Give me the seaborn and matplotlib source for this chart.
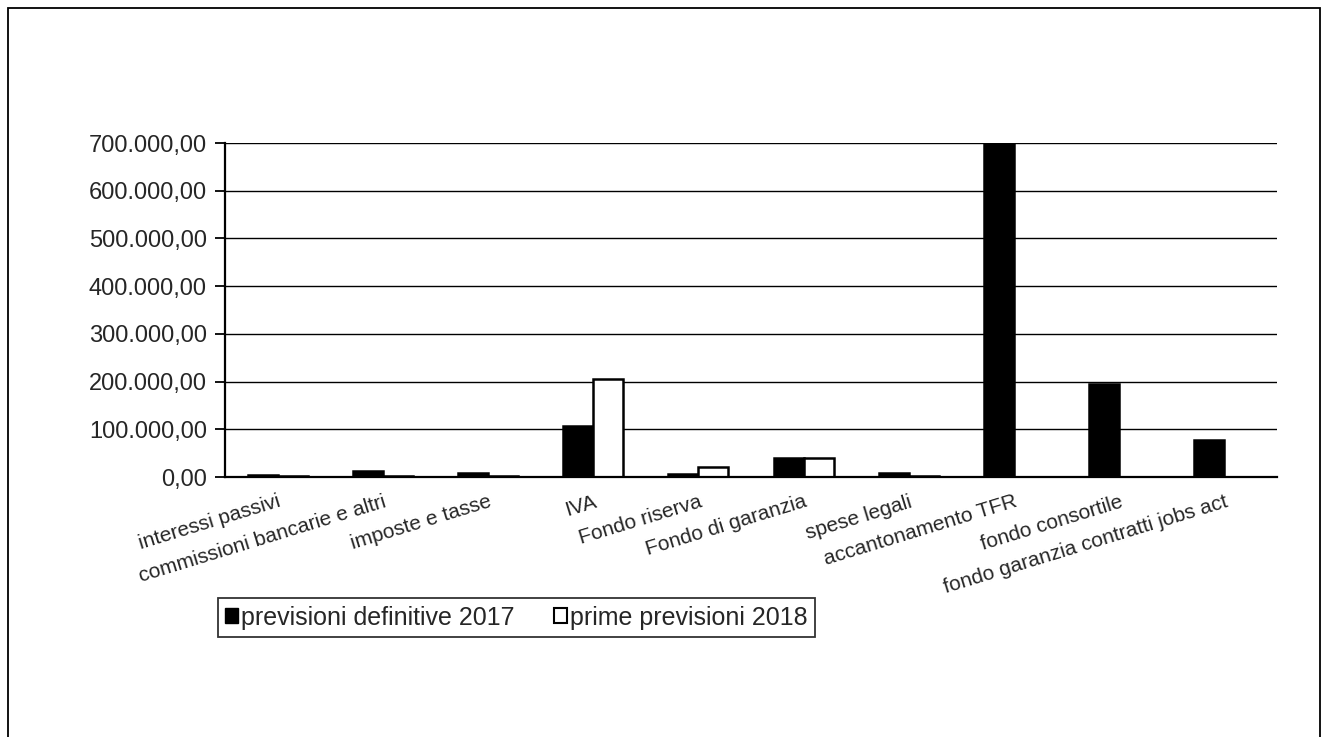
import pandas as pd
import numpy as np
import matplotlib.pyplot as plt
import seaborn as sns
from matplotlib.patches import Rectangle

categories = ['interessi passivi', 'commissioni bancarie e altri', 'imposte e tasse', 'IVA',
              'Fondo riserva', 'Fondo di garanzia', 'spese legali', 'accantonamento TFR',
              'fondo consortile', 'fondo garanzia contratti jobs act']
prev_2017 = [4000, 12000, 8000, 106000, 6000, 39000, 8000, 720000, 195000, 77000]
prev_2018 = [1500, 2000, 2000, 205000, 22000, 39000, 3000, 0, 0, 0]
series = ['previsioni definitive 2017', 'prime previsioni 2018']
yticks = [0, 100000, 200000, 300000, 400000, 500000, 600000, 700000]

df = pd.DataFrame({
    'voce': categories * 2,
    'valore': prev_2017 + prev_2018,
    'serie': [series[0]] * len(categories) + [series[1]] * len(categories),
})

sns.set_style('white')
plt.rcParams['font.family'] = ['Liberation Sans', 'DejaVu Sans']

fig = plt.figure(figsize=(13.27, 7.37), dpi=100)
ax = fig.add_axes([225 / 1327, 1 - 477 / 737, 1052 / 1327, 334 / 737])

sns.barplot(data=df, x='voce', y='valore', hue='serie', palette=['black', 'white'],
            edgecolor='black', linewidth=1.8, width=0.57, gap=0, saturation=1, ax=ax)

ax.set_ylim(0, 700000)
ax.set_xlim(-0.5, len(categories) - 0.5)
ax.set_yticks(yticks)
ax.set_yticklabels(['{:,.2f}'.format(v).replace(',', 'X').replace('.', ',').replace('X', '.') for v in yticks],
                   fontsize=17)
ax.yaxis.grid(True, color='black', linewidth=1)
ax.set_axisbelow(True)
ax.set_xlabel('')
ax.set_ylabel('')

ax.set_xticks(np.arange(len(categories)))
ax.set_xticklabels(categories, rotation=17, ha='right', rotation_mode='anchor', fontsize=15)
ax.set_xticks(np.arange(len(categories) + 1) - 0.5, minor=True)
ax.tick_params(axis='x', which='major', length=0, pad=11)
ax.tick_params(axis='x', which='minor', length=7, width=1.3, color='black', direction='out')
ax.tick_params(axis='y', length=7, width=1.3, color='black', direction='out', left=True, pad=6)

for s in ['top', 'right']:
    ax.spines[s].set_visible(False)
for s in ['left', 'bottom']:
    ax.spines[s].set_color('black')
    ax.spines[s].set_linewidth(1.6)

ax.get_legend().remove()
handles = [Rectangle((0, 0), 1, 1, facecolor='black', edgecolor='black'),
           Rectangle((0, 0), 1, 1, facecolor='white', edgecolor='black', linewidth=1.5)]
leg = fig.legend(handles, series, loc='upper right', bbox_to_anchor=(815 / 1327, 1 - 598 / 737),
                 ncol=2, fontsize=18, frameon=True, fancybox=False, handlelength=0.5,
                 handleheight=0.55, handletextpad=0.12, columnspacing=1.6, borderpad=0.3,
                 borderaxespad=0)
leg.get_frame().set_edgecolor('black')
leg.get_frame().set_linewidth(1.3)

fig.patches.append(Rectangle((8 / 1327, -0.01), (1320 - 8) / 1327, 1 - 8 / 737 + 0.01,
                             transform=fig.transFigure, fill=False, edgecolor='black', linewidth=1.3))

fig.savefig('out.png', dpi=100)
